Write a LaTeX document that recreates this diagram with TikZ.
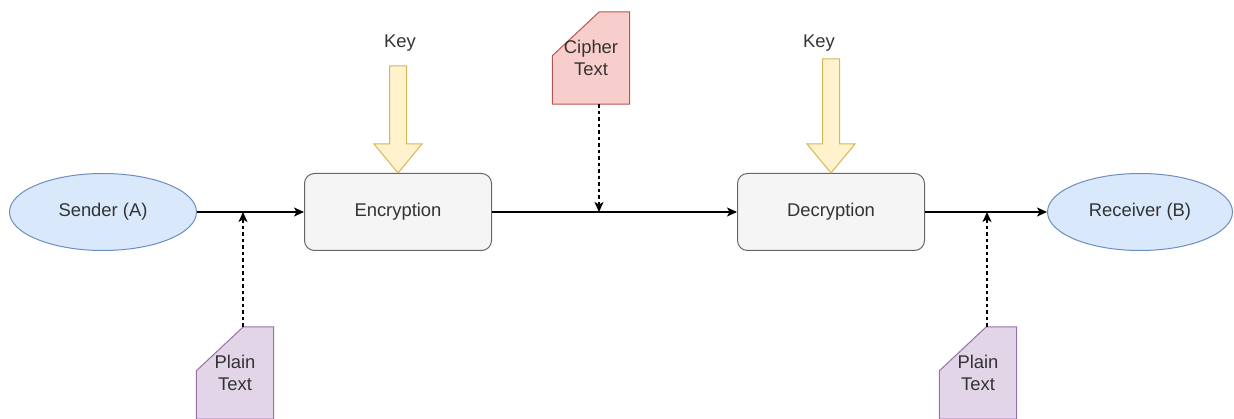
\documentclass[tikz,border=0pt]{standalone}
\usepackage{fontspec}
\setmainfont{Liberation Sans}
\usetikzlibrary{arrows.meta,positioning,shapes.geometric,backgrounds}
\definecolor{partyFill}{HTML}{DAE8FC}
\definecolor{partyLine}{HTML}{6C8EBF}
\definecolor{procFill}{HTML}{F5F5F5}
\definecolor{procLine}{HTML}{666666}
\definecolor{keyFill}{HTML}{FFF2CC}
\definecolor{keyLine}{HTML}{D6B656}
\definecolor{cipherFill}{HTML}{F8CECC}
\definecolor{cipherLine}{HTML}{B85450}
\definecolor{plainFill}{HTML}{E1D5E7}
\definecolor{plainLine}{HTML}{9673A6}
\definecolor{txt}{HTML}{333333}
\tikzset{font=\fontsize{18.4}{21.5}\selectfont}
\tikzset{
  party/.style={ellipse, draw=partyLine, fill=partyFill, line width=1pt,
    minimum width=187pt, minimum height=77pt, text=txt},
  process/.style={rectangle, rounded corners=10pt, draw=procLine, fill=procFill,
    line width=1pt, minimum width=187pt, minimum height=77pt, text=txt},
  cardbox/.style={rectangle, minimum width=77pt, minimum height=92pt,
    inner sep=0pt, align=center, text=txt},
  keylabel/.style={text=txt, inner sep=1pt},
  keyarrow/.style={draw=keyLine, fill=keyFill, line width=1pt},
  flow/.style={-{Stealth[length=10pt,width=9pt,inset=2.5pt]}, line width=1.1pt},
  feed/.style={flow, dash pattern=on 3.5pt off 3pt}
}
% card outline with the cut corner top left
\newcommand{\cardshape}[3]{%
  \filldraw[fill=#2, draw=#3, line width=1pt] (#1.south west)
    -- ([yshift=-44pt]#1.north west) -- ([xshift=47pt]#1.north west)
    -- (#1.north east) -- (#1.south east) -- cycle;}

\begin{document}
\begin{tikzpicture}[x=1pt, y=-1pt]
\useasboundingbox (0,0) rectangle (1234,419);
\node[party] (sender) at (103,212) {Sender (A)};
\node[process] (enc) at (398,212) {Encryption};
\node[process] (dec) at (831,212) {Decryption};
\node[party, minimum width=185pt] (receiver) at (1140,212) {Receiver (B)};

\node[cardbox] (plainA) at (235,373) {Plain\\Text};
\node[cardbox] (cipher) at (591,58) {Cipher\\Text};
\node[cardbox] (plainB) at (978,373) {Plain\\Text};
\begin{pgfonlayer}{background}
\cardshape{plainA}{plainFill}{plainLine}
\cardshape{cipher}{cipherFill}{cipherLine}
\cardshape{plainB}{plainFill}{plainLine}
\end{pgfonlayer}

% keys
\node[keylabel] (keyA) at (400,43) {Key};
\node[keylabel] (keyB) at (819,43) {Key};
\filldraw[keyarrow] (enc.north) -- ++(-24,-29) -- ++(15.5,0) -- ++(0,-78)
  -- ++(17,0) -- ++(0,78) -- ++(15.5,0) -- cycle;
\filldraw[keyarrow] (dec.north) -- ++(-24,-29) -- ++(15.5,0) -- ++(0,-85)
  -- ++(17,0) -- ++(0,85) -- ++(15.5,0) -- cycle;

% main flow
\coordinate (joinA) at (243,212);
\coordinate (joinC) at (599,212);
\coordinate (joinB) at (987,212);
\draw[flow] (sender) -- (enc);
\draw[flow] (enc) -- (dec);
\draw[flow] (dec) -- (receiver);
\draw[feed] (plainA.north -| joinA) -- (joinA);
\draw[feed] (cipher.south -| joinC) -- (joinC);
\draw[feed] (plainB.north -| joinB) -- (joinB);
\end{tikzpicture}
\end{document}
